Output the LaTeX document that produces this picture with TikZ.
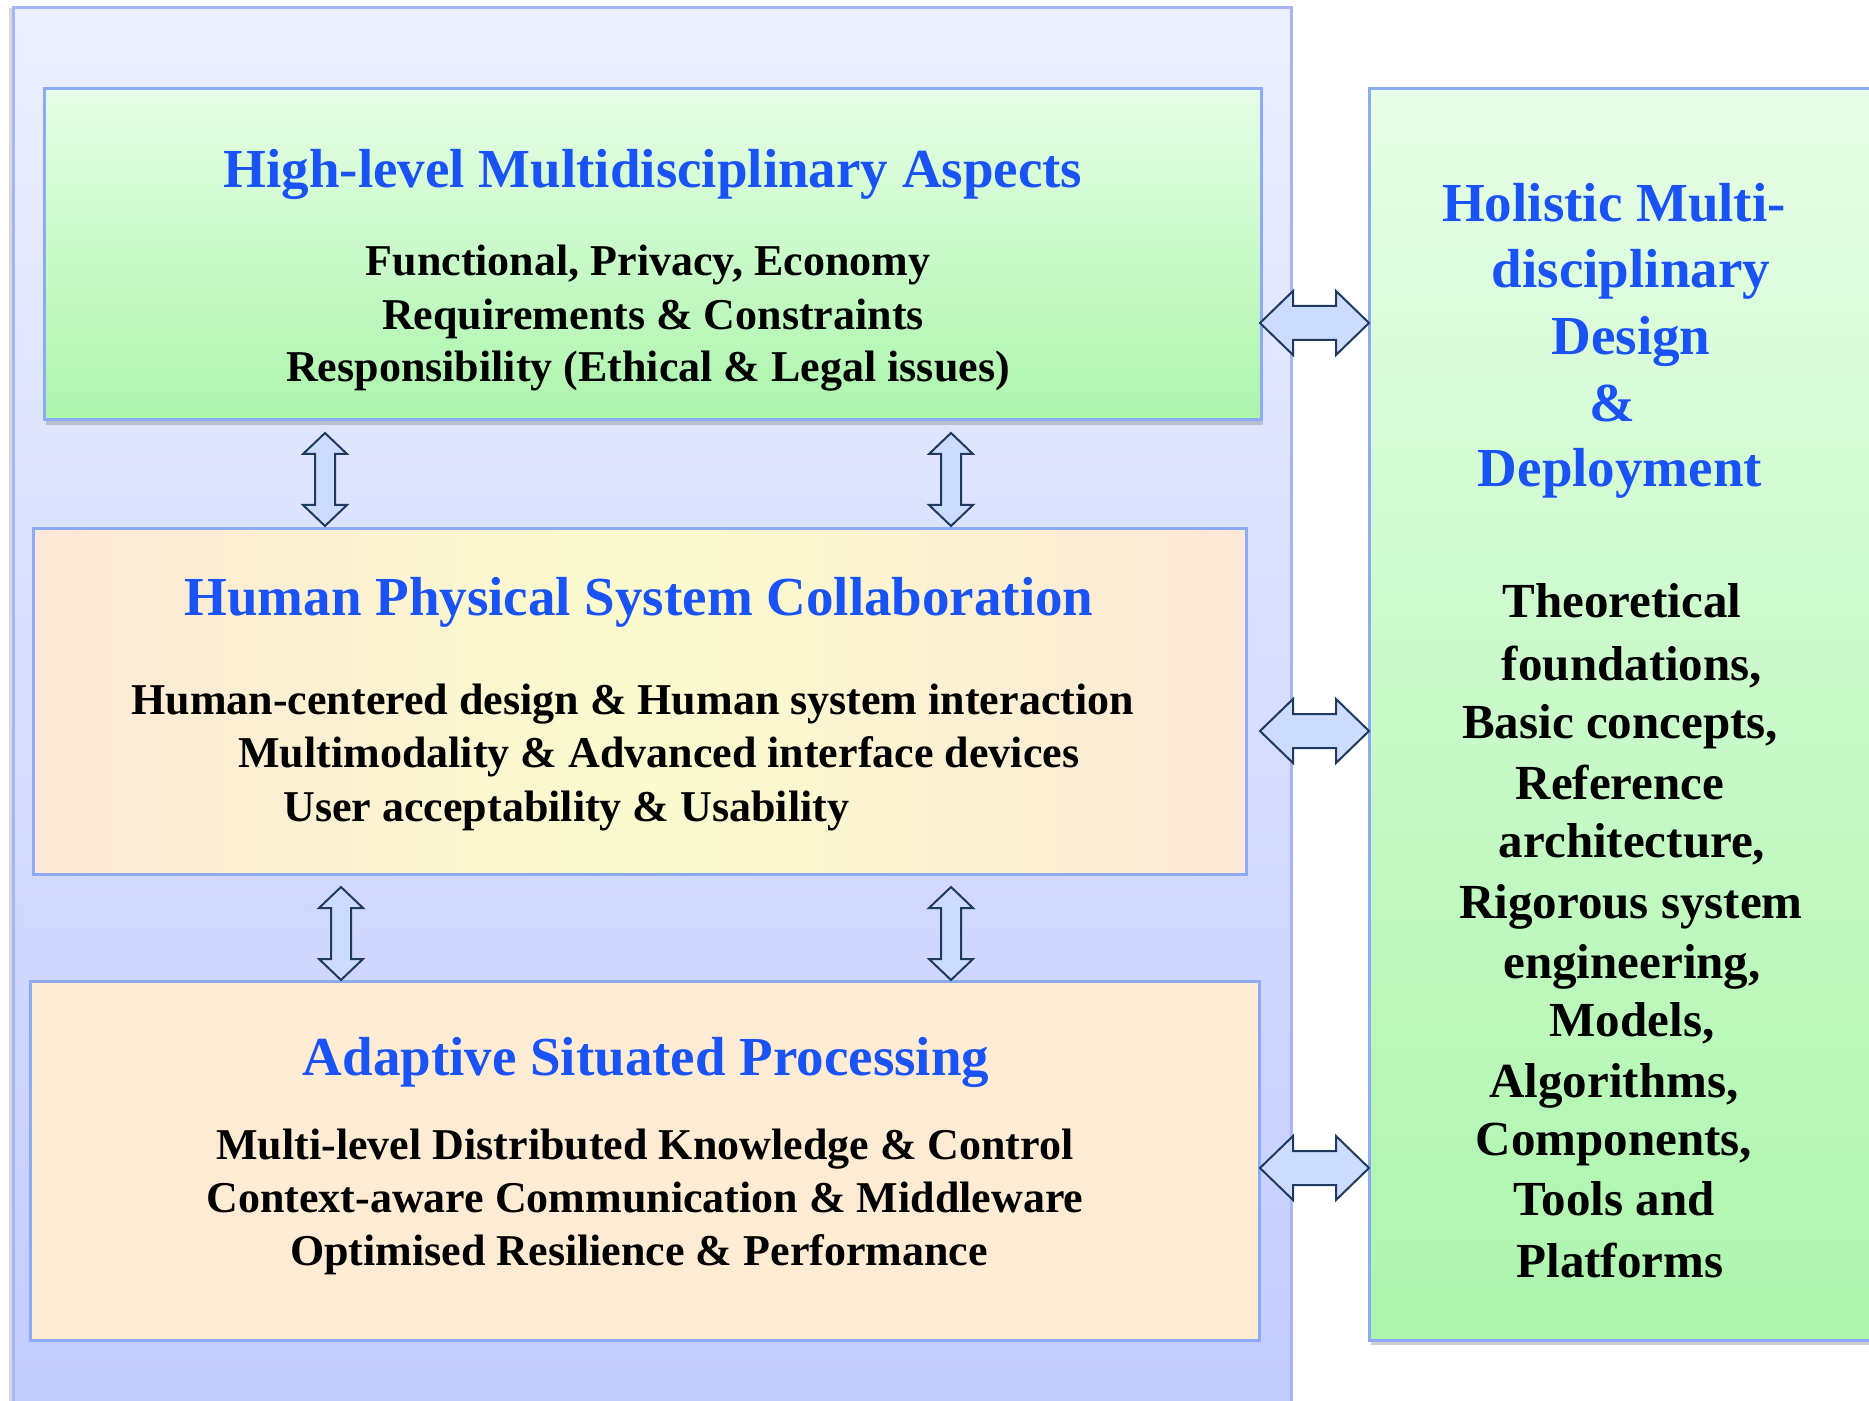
\documentclass[tikz,border=0pt]{standalone}
\usepackage{fontspec}
\setmainfont{Liberation Serif}
\usetikzlibrary{shadows}
\definecolor{ttblue}{RGB}{25,82,245}
\definecolor{outtop}{RGB}{236,239,255}
\definecolor{outbot}{RGB}{194,203,255}
\definecolor{outline}{RGB}{168,180,248}
\definecolor{boxline}{RGB}{140,170,245}
\definecolor{grtop}{RGB}{230,253,230}
\definecolor{grbot}{RGB}{172,245,172}
\definecolor{peach}{RGB}{252,232,214}
\definecolor{paleyel}{RGB}{250,250,206}
\definecolor{peachb}{RGB}{254,235,211}
\definecolor{arrfill}{RGB}{204,220,255}
\definecolor{arrline}{RGB}{30,58,92}
\tikzset{
  boxshape/.style={draw=boxline, line width=1.5pt, inner sep=0pt, rectangle},
  boxshadow/.style={drop shadow={shadow xshift=1pt, shadow yshift=-2.5pt, opacity=0.3, fill=black!60}},
  titletext/.style={text=ttblue, font=\fontsize{27.5}{33.5}\selectfont\bfseries, inner sep=0pt, anchor=base, yshift=-9.5pt},
  bodytext/.style={text=black, font=\fontsize{22}{26.5}\selectfont\bfseries, inner sep=0pt, anchor=base, yshift=-7.5pt},
  sidetext/.style={text=black, font=\fontsize{24.5}{30}\selectfont\bfseries, inner sep=0pt, anchor=base, yshift=-8.5pt},
  blockarrow/.style={fill=arrfill, draw=arrline, line width=1pt, line join=miter}
}
\newcommand\HArrow[2]{%
  \draw[blockarrow] (#1,#2) -- ++(33,-32) -- ++(0,15) -- ++(43,0) -- ++(0,-15)
    -- ++(33,32) -- ++(-33,32) -- ++(0,-15) -- ++(-43,0) -- ++(0,15) -- cycle;}
\newcommand\VArrow[2]{%
  \draw[blockarrow] (#1,#2) -- ++(22,21) -- ++(-12,0) -- ++(0,51) -- ++(12,0)
    -- ++(-22,21) -- ++(-22,-21) -- ++(12,0) -- ++(0,-51) -- ++(-12,0) -- cycle;}
\begin{document}
\begin{tikzpicture}[x=0.5pt,y=-0.5pt]
\useasboundingbox (0,0) rectangle (1869,1401);
\clip (0,0) rectangle (1869,1401);
\fill[white] (0,0) rectangle (1869,1401);
% outer panel
\node[boxshape, draw=outline, top color=outtop, bottom color=outbot,
      minimum width=639pt, minimum height=706pt,
      drop shadow={shadow xshift=-2pt, shadow yshift=0pt, opacity=0.25, fill=black!60}] (outer) at (652,714) {};
% top box
\node[boxshape, boxshadow, top color=grtop, bottom color=grbot,
      minimum width=608.5pt, minimum height=165.5pt] (top) at (652.5,254.5) {};
% middle box
\node[boxshape, left color=peach, right color=peach, middle color=paleyel,
      minimum width=606.5pt, minimum height=173pt] (mid) at (639.5,701) {};
% bottom box
\node[boxshape, fill=peachb,
      minimum width=614.5pt, minimum height=179.5pt] (bot) at (644.5,1160.5) {};
% right box
\node[boxshape, boxshadow, top color=grtop, bottom color=grbot,
      minimum width=265.5pt, minimum height=625.5pt] (side) at (1634.5,714.5) {};

% top box texts
\node[titletext] (t1) at (653,169) {High-level Multidisciplinary Aspects};
\node[bodytext] (t1a) at (648,261) {Functional, Privacy, Economy};
\node[bodytext] (t1b) at (653,315) {Requirements \& Constraints};
\node[bodytext] (t1c) at (648,367) {Responsibility (Ethical \& Legal issues)};
% middle texts
\node[titletext] (t2) at (639,596) {Human Physical System Collaboration};
\node[bodytext, anchor=base west] (t2a) at (131,699) {Human-centered design \& Human system interaction};
\node[bodytext, anchor=base west] (t2b) at (238,752) {Multimodality \& Advanced interface devices};
\node[bodytext, anchor=base west] (t2c) at (283,806) {User acceptability \& Usability};
% bottom texts
\node[titletext] (t3) at (646,1056) {Adaptive Situated Processing};
\node[bodytext] (t3a) at (645,1144) {Multi-level Distributed Knowledge \& Control};
\node[bodytext] (t3b) at (645,1197) {Context-aware Communication \& Middleware};
\node[bodytext] (t3c) at (639,1250) {Optimised Resilience \& Performance};
% right texts
\node[titletext] (s1) at (1614,203) {Holistic Multi-};
\node[titletext] (s2) at (1631,269) {disciplinary};
\node[titletext] (s3) at (1631,336) {Design};
\node[titletext] (s4) at (1612,403) {\&};
\node[titletext] (s5) at (1620,468) {Deployment};
\node[sidetext] (r1) at (1622,600) {Theoretical};
\node[sidetext] (r2) at (1632,663) {foundations,};
\node[sidetext] (r3) at (1620,721) {Basic concepts,};
\node[sidetext] (r4) at (1620,782) {Reference};
\node[sidetext] (r5) at (1632,840) {architecture,};
\node[sidetext] (r6) at (1631,901) {Rigorous system};
\node[sidetext] (r7) at (1632,961) {engineering,};
\node[sidetext] (r8) at (1632,1019) {Models,};
\node[sidetext] (r9) at (1614,1080) {Algorithms,};
\node[sidetext] (r10) at (1614,1138) {Components,};
\node[sidetext] (r11) at (1614,1198) {Tools and};
\node[sidetext] (r12) at (1620,1260) {Platforms};

% block arrows
\HArrow{1260}{323}
\HArrow{1260}{731}
\HArrow{1260}{1168}
\VArrow{325}{433}
\VArrow{951}{433}
\VArrow{341}{887}
\VArrow{951}{887}
\end{tikzpicture}
\end{document}
